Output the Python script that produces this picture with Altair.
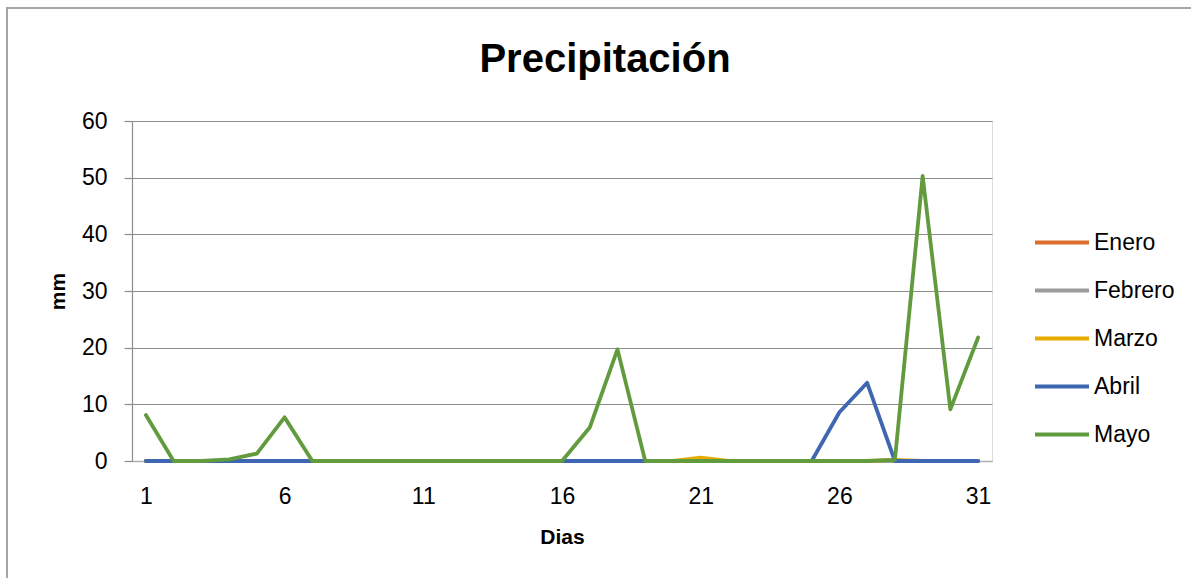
import altair as alt
import pandas as pd

# Daily rainfall (mm) per month
dias = list(range(1, 32))
meses = ["Enero", "Febrero", "Marzo", "Abril", "Mayo"]
colores = ["#DA6F2B", "#9C9C9C", "#E8AC00", "#3F67B1", "#629B3E"]

enero = [0] * 31
febrero = [0] * 28
marzo = [0, 0, 0, 0, 0, 0, 0, 0, 0, 0, 0, 0, 0, 0, 0, 0, 0, 0, 0, 0,
         0.6, 0, 0, 0, 0, 0, 0, 0.2, 0, 0, 0]
abril = [0, 0, 0, 0, 0, 0, 0, 0, 0, 0, 0, 0, 0, 0, 0, 0, 0, 0, 0, 0,
         0, 0, 0, 0, 0, 8.6, 13.8, 0, 0, 0, 0]
mayo = [8.1, 0, 0, 0.3, 1.3, 7.7, 0, 0, 0, 0, 0, 0, 0, 0, 0, 0, 5.9, 19.7, 0, 0,
        0, 0, 0, 0, 0, 0, 0, 0.2, 50.3, 9.1, 21.8]

series = [enero, febrero, marzo, abril, mayo]
rows = []
for mes, valores in zip(meses, series):
    for d, v in zip(dias, valores):
        rows.append({"Dia": d, "mm": v, "Mes": mes})
df = pd.DataFrame(rows)

FONT = "Liberation Sans"

lineas = alt.Chart(df).mark_line(strokeWidth=3.8, strokeJoin="round", strokeCap="round").encode(
    x=alt.X(
        "Dia:Q",
        scale=alt.Scale(domain=[0.5, 31.5], nice=False, zero=False),
        axis=alt.Axis(
            values=[1, 6, 11, 16, 21, 26, 31],
            title="Dias",
            grid=False,
            ticks=False,
            domainColor="#B0B0B0",
            domainWidth=1.5,
            labelPadding=24,
            labelFontSize=23,
            labelFont=FONT,
            labelColor="#000000",
            titleFont=FONT,
            titleFontSize=21,
            titleFontWeight="bold",
            titleColor="#000000",
            titleX=430,
            titleY=76,
            titleBaseline="middle",
            titleAlign="center",
        ),
    ),
    y=alt.Y(
        "mm:Q",
        scale=alt.Scale(domain=[0, 60], nice=False),
        axis=alt.Axis(
            values=[0, 10, 20, 30, 40, 50, 60],
            title="mm",
            grid=True,
            gridColor="#8C8C8C",
            gridWidth=1.2,
            domainColor="#8C8C8C",
            domainWidth=1.2,
            tickColor="#8C8C8C",
            tickSize=8,
            tickWidth=1.2,
            labelPadding=17,
            labelFontSize=23,
            labelFont=FONT,
            labelColor="#000000",
            titleFont=FONT,
            titleFontSize=21,
            titleFontWeight="bold",
            titleColor="#000000",
            titleAngle=270,
            titleX=-74,
            titleY=170,
            titleBaseline="middle",
            titleAlign="center",
        ),
    ),
    color=alt.Color(
        "Mes:N",
        sort=meses,
        scale=alt.Scale(domain=meses, range=colores),
        legend=alt.Legend(
            title=None,
            orient="none",
            legendX=914.5,
            legendY=106,
            symbolType="M-2,0H2",
            symbolSize=729,
            symbolStrokeWidth=4,
            symbolFillColor="transparent",
            rowPadding=20,
            labelOffset=16.5,
            labelFontSize=23,
            labelFont=FONT,
            labelColor="#000000",
            padding=0,
        ),
    ),
)

# outer frame of the chart
marco = alt.Chart(df).mark_rect(fill="transparent", stroke="#A6A6A6", strokeWidth=1.5, clip=False).encode(
    x=alt.value(-125), x2=alt.value(1080), y=alt.value(-113), y2=alt.value(480)
)

chart = alt.layer(marco, lineas).properties(
    width=860,
    height=340,
    title=alt.TitleParams(
        "Precipitación",
        font=FONT,
        fontSize=40,
        fontWeight="bold",
        color="#000000",
        anchor="middle",
        dx=43,
        offset=-105,
        baseline="alphabetic",
    ),
    padding={"left": 132, "top": 121, "right": 199, "bottom": 117},
    autosize=alt.AutoSizeParams(type="none"),
).configure_view(stroke=None).configure(background="#FFFFFF")

chart.save("out.html", embed_options={"renderer": "svg", "actions": False})
